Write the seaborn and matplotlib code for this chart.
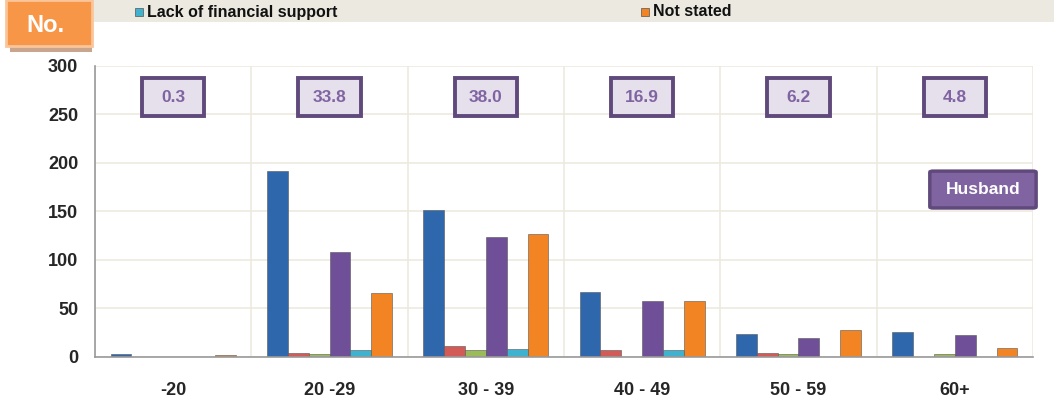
import numpy as np
import pandas as pd
import matplotlib
matplotlib.use("Agg")
import matplotlib.pyplot as plt
from matplotlib.patches import Rectangle, FancyBboxPatch
import seaborn as sns

# age groups on the x axis
age_groups = ["-20", "20 -29", "30 - 39", "40 - 49", "50 - 59", "60+"]

# counts per reason
reason_a = [3, 192, 151, 67, 23, 26]        # blue
reason_b = [0, 4, 11, 7, 4, 0]              # red
reason_c = [0, 3, 7, 0, 3, 3]               # green
reason_d = [0, 108, 124, 57, 19, 22]        # purple
lack_financial = [0, 7, 8, 7, 0, 0]         # teal
not_stated = [2, 66, 127, 57, 28, 9]        # orange

# share of husbands in each age group (%)
share_pct = ["0.3", "33.8", "38.0", "16.9", "6.2", "4.8"]

series_names = ["Reason A", "Reason B", "Reason C", "Reason D",
                "Lack of financial support", "Not stated"]
series_values = [reason_a, reason_b, reason_c, reason_d, lack_financial, not_stated]
palette = ["#2F67AC", "#D25A57", "#9BBB59", "#6E4F98", "#3FB2D0", "#F28424"]

rows = []
for name, vals in zip(series_names, series_values):
    for grp, v in zip(age_groups, vals):
        rows.append({"age": grp, "reason": name, "count": v})
df = pd.DataFrame(rows)

sns.set_style("white")
plt.rcParams["font.family"] = ["Liberation Sans", "DejaVu Sans"]

fig = plt.figure(figsize=(10.54, 3.97), dpi=100)
ax = fig.add_axes([95 / 1054, 1 - 356.7 / 397, (1033 - 95) / 1054, (356.7 - 66) / 397])

sns.barplot(data=df, x="age", y="count", hue="reason", order=age_groups,
            hue_order=series_names, palette=palette, width=0.8, saturation=1,
            edgecolor="#555555", linewidth=0.4, legend=False, ax=ax)

ax.set_ylim(0, 300)
ax.set_xlim(-0.5, len(age_groups) - 0.5)
ax.set_yticks(np.arange(0, 301, 50))
ax.set_xticks(np.arange(len(age_groups)))
ax.set_xticks(np.arange(-0.5, len(age_groups), 1.0), minor=True)
ax.set_xticklabels(age_groups, fontsize=13, fontweight="bold")
ax.set_yticklabels([str(v) for v in range(0, 301, 50)], fontsize=13, fontweight="bold")
ax.set_xlabel("")
ax.set_ylabel("")

ax.tick_params(axis="x", which="major", length=0, pad=18)
ax.tick_params(axis="x", which="minor", length=5, color="#999999", direction="out")
ax.tick_params(axis="y", length=5, color="#999999", direction="out", pad=7)

ax.grid(axis="y", color="#ECEADF", linewidth=1.2)
ax.grid(axis="x", which="minor", color="#ECEADF", linewidth=1.2)
ax.set_axisbelow(True)
for side in ["top", "right"]:
    ax.spines[side].set_visible(False)
for side in ["left", "bottom"]:
    ax.spines[side].set_color("#999999")
    ax.spines[side].set_linewidth(1.2)

# percentage boxes above each group (fixed size)
for i, pct in enumerate(share_pct):
    ax.add_patch(Rectangle((i - 0.2, 248.5), 0.4, 39, fc="#E6E0EC", ec="#604A7B",
                           lw=2.8, zorder=5, clip_on=False))
    ax.text(i, 268, pct, ha="center", va="center", fontsize=12.5, fontweight="bold",
            color="#8064A2", zorder=6)

ax.add_patch(FancyBboxPatch((4.84, 153.5), 0.68, 38,
                            boxstyle="round,pad=0,rounding_size=0.02",
                            mutation_aspect=60, fc="#8064A2", ec="#604A7B",
                            lw=2.5, zorder=5, clip_on=False))
ax.text(5.18, 172.5, "Husband", ha="center", va="center", fontsize=12.5,
        fontweight="bold", color="white", zorder=6)

# legend strip at the top (only the last row is visible)
fig.patches.append(Rectangle((88 / 1054, 1 - 22 / 397), 1 - 88 / 1054, 22 / 397,
                             transform=fig.transFigure, fc="#ECEAE0", ec="none", zorder=0))
for x0, name, col in [(135, "Lack of financial support", palette[4]),
                      (641, "Not stated", palette[5])]:
    fig.patches.append(Rectangle((x0 / 1054, 1 - 16 / 397), 8 / 1054, 8 / 397,
                                 transform=fig.transFigure, fc=col, ec="#555555", lw=0.5))
    fig.text((x0 + 12) / 1054, 1 - 12 / 397, name, ha="left", va="center",
             fontsize=11.5, fontweight="bold", color="#111111")

# "No." tag
fig.patches.append(Rectangle((10 / 1054, 1 - 52 / 397), 82 / 1054, 6 / 397,
                             transform=fig.transFigure, fc="#C9A58E", ec="none", zorder=2))
fig.patches.append(Rectangle((6 / 1054, 1 - 46 / 397), 86 / 1054, 46 / 397,
                             transform=fig.transFigure, fc="#F79646", ec="#FBC59A",
                             lw=2, zorder=3))
fig.text(45 / 1054, 1 - 25 / 397, "No.", ha="center", va="center", fontsize=17,
         fontweight="bold", color="white", zorder=4)

fig.savefig("out.png", dpi=100)
